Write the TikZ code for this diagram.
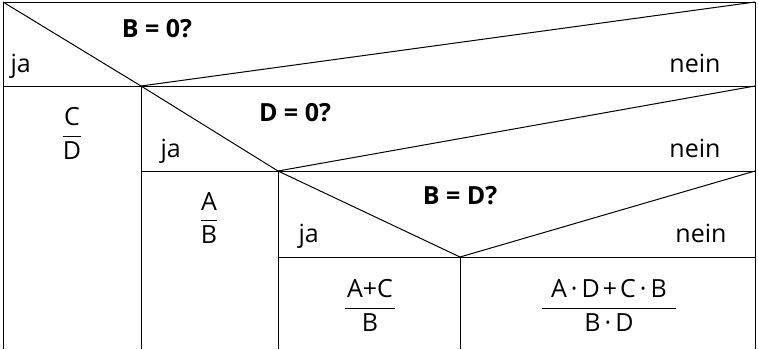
\documentclass[tikz,border=0pt]{standalone}
\usepackage{fontspec}
\setmainfont{Open Sans}
\begin{document}
\begin{tikzpicture}[x=1pt,y=-1pt,line width=1pt,
  lbl/.style={font=\fontsize{25}{30}\selectfont,inner sep=0pt},
  cond/.style={font=\fontsize{25}{30}\selectfont\bfseries,inner sep=0pt},
  frc/.style={font=\fontsize{25}{30}\selectfont,inner sep=0pt}]
\useasboundingbox (0,0) rectangle (758,349);
% corners
\coordinate (tl) at (3,2);
\coordinate (tr) at (755,2);
\coordinate (v1) at (141,86);
\coordinate (r1) at (755,86);
\coordinate (l1) at (3,86);
\coordinate (v2) at (278,171);
\coordinate (l2) at (141,171);
\coordinate (r2) at (755,171);
\coordinate (v3) at (460,257);
\coordinate (r3) at (755,257);
\coordinate (l3) at (278,257);
% frame
\draw (3,349) -- (tl) -- (tr) -- (755,349);
\draw (l1) -- (r1);
\draw (l2) -- (r2);
\draw (l3) -- (r3);
\draw (v1) -- (141,349);
\draw (v2) -- (278,349);
\draw (v3) -- (460,349);
% diagonals
\draw (tl) -- (v1) -- (tr);
\draw (v1) -- (v2) -- (r1);
\draw (v2) -- (v3) -- (r2);
% texts
\node[cond,anchor=base] (c1) at (157,37) {B = 0?};
\node[lbl,anchor=base west] (j1) at (10,72) {ja};
\node[lbl,anchor=base east] (n1) at (721,72) {nein};
\node[frc] (f1) at (72,133) {$\displaystyle\frac{\mbox{C}}{\mbox{D}}$};
\node[cond,anchor=base] (c2) at (295,121) {D = 0?};
\node[lbl,anchor=base west] (j2) at (160,157) {ja};
\node[lbl,anchor=base east] (n2) at (721,157) {nein};
\node[frc] (f2) at (209,218) {$\displaystyle\frac{\mbox{A}}{\mbox{B}}$};
\node[cond,anchor=base] (c3) at (460,204) {B = D?};
\node[lbl,anchor=base west] (j3) at (298,242) {ja};
\node[lbl,anchor=base east] (n3) at (727,242) {nein};
\node[frc] (f3) at (370,305) {$\displaystyle\frac{\mbox{\kern2pt A+C\kern2pt}}{\mbox{B}}$};
\node[frc] (f4) at (609,305) {$\displaystyle\frac{\mbox{\kern9pt A\kern4pt·\kern4pt D\kern3pt+\kern3pt C\kern4pt·\kern4pt B\kern9pt}}{\mbox{B\kern4pt·\kern4pt D}}$};
\end{tikzpicture}
\end{document}
